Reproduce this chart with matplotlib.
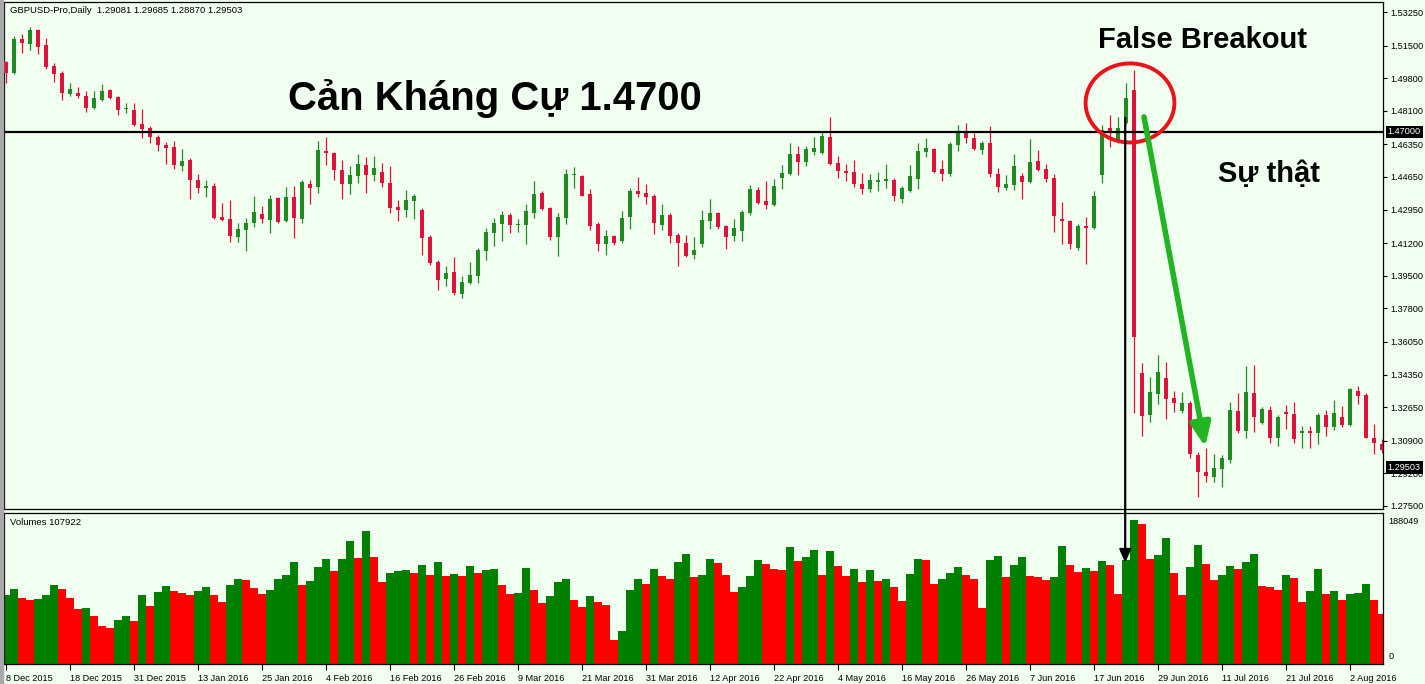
import numpy as np
import pandas as pd
import matplotlib
matplotlib.use("Agg")
import matplotlib.pyplot as plt
from matplotlib.patches import Ellipse, Rectangle
import matplotlib.transforms as mtransforms

plt.rcParams["font.family"] = ["Liberation Sans", "DejaVu Sans"]

# GBPUSD daily, 8 Dec 2015 .. 8 Aug 2016
opens = [1.5065, 1.5007, 1.5185, 1.5159, 1.5232, 1.5153, 1.5044, 1.5007, 1.4898, 1.4903,
         1.4888, 1.4825, 1.4867, 1.4919, 1.4882, 1.4820, 1.4815, 1.4742, 1.4721, 1.4674,
         1.4632, 1.4622, 1.4523, 1.4554, 1.4450, 1.4408, 1.4418, 1.4257, 1.4246, 1.4152,
         1.4189, 1.4225, 1.4272, 1.4241, 1.4356, 1.4236, 1.4361, 1.4246, 1.4429, 1.4413,
         1.4601, 1.4590, 1.4502, 1.4429, 1.4471, 1.4528, 1.4476, 1.4491, 1.4434, 1.4309,
         1.4293, 1.4340, 1.4293, 1.4152, 1.4022, 1.3934, 1.3970, 1.3856, 1.3913, 1.3949,
         1.4079, 1.4173, 1.4220, 1.4267, 1.4215, 1.4215, 1.4278, 1.4382, 1.4304, 1.4152,
         1.4252, 1.4476, 1.4471, 1.4377, 1.4220, 1.4116, 1.4158, 1.4131, 1.4257, 1.4392,
         1.4382, 1.4366, 1.4215, 1.4267, 1.4163, 1.4121, 1.4059, 1.4116, 1.4236, 1.4278,
         1.4210, 1.4158, 1.4184, 1.4278, 1.4398, 1.4340, 1.4319, 1.4460, 1.4481, 1.4585,
         1.4543, 1.4596, 1.4590, 1.4674, 1.4538, 1.4497, 1.4491, 1.4429, 1.4403, 1.4439,
         1.4445, 1.4450, 1.4351, 1.4392, 1.4455, 1.4596, 1.4611, 1.4507, 1.4481, 1.4632,
         1.4705, 1.4669, 1.4606, 1.4643, 1.4481, 1.4408, 1.4424, 1.4471, 1.4439, 1.4549,
         1.4507, 1.4460, 1.4246, 1.4236, 1.4095, 1.4210, 1.4199, 1.4476, 1.4721, 1.4648,
         1.4747, 1.4919, 1.3444, 1.3225, 1.3334, 1.3418, 1.3313, 1.3246, 1.3287, 1.3016,
         1.2927, 1.2901, 1.2943, 1.2990, 1.3246, 1.3141, 1.3339, 1.3183, 1.3251, 1.3105,
         1.3240, 1.3230, 1.3131, 1.3141, 1.3131, 1.3225, 1.3162, 1.3214, 1.3173, 1.3350,
         1.3329, 1.3105, 1.3073]
highs = [1.5070, 1.5200, 1.5211, 1.5247, 1.5235, 1.5190, 1.5060, 1.5018, 1.4955, 1.4935,
         1.4914, 1.4914, 1.4950, 1.4924, 1.4885, 1.4851, 1.4851, 1.4820, 1.4731, 1.4684,
         1.4648, 1.4653, 1.4611, 1.4564, 1.4481, 1.4450, 1.4434, 1.4330, 1.4346, 1.4225,
         1.4252, 1.4366, 1.4314, 1.4372, 1.4361, 1.4413, 1.4418, 1.4450, 1.4450, 1.4653,
         1.4674, 1.4596, 1.4554, 1.4523, 1.4585, 1.4570, 1.4575, 1.4538, 1.4523, 1.4346,
         1.4398, 1.4377, 1.4304, 1.4163, 1.4033, 1.4001, 1.4048, 1.3949, 1.4022, 1.4095,
         1.4199, 1.4252, 1.4288, 1.4278, 1.4246, 1.4325, 1.4445, 1.4392, 1.4309, 1.4278,
         1.4507, 1.4517, 1.4476, 1.4403, 1.4231, 1.4189, 1.4163, 1.4288, 1.4408, 1.4465,
         1.4429, 1.4377, 1.4325, 1.4278, 1.4173, 1.4163, 1.4152, 1.4293, 1.4351, 1.4283,
         1.4215, 1.4246, 1.4293, 1.4424, 1.4413, 1.4445, 1.4455, 1.4528, 1.4643, 1.4627,
         1.4627, 1.4674, 1.4700, 1.4778, 1.4575, 1.4533, 1.4554, 1.4486, 1.4481, 1.4491,
         1.4533, 1.4460, 1.4418, 1.4528, 1.4643, 1.4669, 1.4617, 1.4554, 1.4648, 1.4736,
         1.4747, 1.4695, 1.4653, 1.4731, 1.4512, 1.4476, 1.4585, 1.4486, 1.4663, 1.4606,
         1.4533, 1.4481, 1.4335, 1.4241, 1.4220, 1.4257, 1.4392, 1.4736, 1.4788, 1.4778,
         1.4955, 1.5023, 1.3496, 1.3423, 1.3537, 1.3501, 1.3350, 1.3345, 1.3298, 1.3032,
         1.3052, 1.3021, 1.3016, 1.3292, 1.3339, 1.3480, 1.3485, 1.3266, 1.3272, 1.3225,
         1.3277, 1.3292, 1.3167, 1.3167, 1.3235, 1.3251, 1.3303, 1.3272, 1.3365, 1.3376,
         1.3339, 1.3178, 1.3099]
lows = [1.4955, 1.5002, 1.5112, 1.5127, 1.5106, 1.5028, 1.4961, 1.4867, 1.4888, 1.4877,
        1.4804, 1.4820, 1.4862, 1.4872, 1.4788, 1.4799, 1.4731, 1.4669, 1.4643, 1.4601,
        1.4533, 1.4507, 1.4497, 1.4351, 1.4382, 1.4361, 1.4247, 1.4236, 1.4126, 1.4126,
        1.4079, 1.4205, 1.4225, 1.4173, 1.4226, 1.4231, 1.4147, 1.4225, 1.4325, 1.4382,
        1.4528, 1.4450, 1.4351, 1.4377, 1.4434, 1.4382, 1.4445, 1.4413, 1.4278, 1.4236,
        1.4257, 1.4246, 1.4059, 1.4007, 1.3876, 1.3897, 1.3850, 1.3835, 1.3908, 1.3913,
        1.4033, 1.4105, 1.4131, 1.4173, 1.4178, 1.4116, 1.4252, 1.4293, 1.4137, 1.4053,
        1.4220, 1.4408, 1.4366, 1.4189, 1.4079, 1.4059, 1.4111, 1.4121, 1.4194, 1.4361,
        1.4325, 1.4168, 1.4189, 1.4121, 1.4001, 1.4048, 1.4038, 1.4100, 1.4194, 1.4194,
        1.4090, 1.4131, 1.4131, 1.4267, 1.4325, 1.4299, 1.4314, 1.4403, 1.4476, 1.4476,
        1.4523, 1.4580, 1.4585, 1.4528, 1.4460, 1.4445, 1.4413, 1.4377, 1.4387, 1.4392,
        1.4408, 1.4340, 1.4330, 1.4387, 1.4403, 1.4570, 1.4486, 1.4445, 1.4471, 1.4601,
        1.4643, 1.4606, 1.4585, 1.4465, 1.4387, 1.4398, 1.4398, 1.4351, 1.4434, 1.4497,
        1.4439, 1.4178, 1.4116, 1.4090, 1.4085, 1.4012, 1.4194, 1.4434, 1.4622, 1.4643,
        1.4742, 1.3235, 1.3115, 1.3188, 1.3282, 1.3204, 1.3240, 1.3235, 1.3000, 1.2797,
        1.2875, 1.2875, 1.2849, 1.2974, 1.3131, 1.3105, 1.3136, 1.3178, 1.3079, 1.3063,
        1.3152, 1.3079, 1.3052, 1.3052, 1.3073, 1.3115, 1.3146, 1.3162, 1.3167, 1.3282,
        1.3105, 1.3021, 1.3026]
closes = [1.5007, 1.5185, 1.5164, 1.5232, 1.5143, 1.5039, 1.5002, 1.4903, 1.4924, 1.4888,
          1.4825, 1.4877, 1.4914, 1.4877, 1.4815, 1.4825, 1.4736, 1.4716, 1.4674, 1.4632,
          1.4617, 1.4528, 1.4549, 1.4450, 1.4408, 1.4418, 1.4252, 1.4241, 1.4158, 1.4194,
          1.4225, 1.4283, 1.4246, 1.4351, 1.4231, 1.4361, 1.4252, 1.4439, 1.4408, 1.4606,
          1.4590, 1.4502, 1.4429, 1.4476, 1.4533, 1.4476, 1.4512, 1.4434, 1.4304, 1.4293,
          1.4346, 1.4366, 1.4147, 1.4017, 1.3928, 1.3965, 1.3861, 1.3918, 1.3954, 1.4085,
          1.4178, 1.4225, 1.4267, 1.4215, 1.4220, 1.4288, 1.4377, 1.4299, 1.4152, 1.4257,
          1.4481, 1.4481, 1.4366, 1.4210, 1.4116, 1.4158, 1.4121, 1.4252, 1.4392, 1.4377,
          1.4361, 1.4225, 1.4267, 1.4158, 1.4121, 1.4053, 1.4085, 1.4241, 1.4278, 1.4205,
          1.4152, 1.4199, 1.4283, 1.4403, 1.4330, 1.4319, 1.4418, 1.4486, 1.4585, 1.4543,
          1.4611, 1.4617, 1.4679, 1.4533, 1.4497, 1.4486, 1.4429, 1.4403, 1.4450, 1.4450,
          1.4455, 1.4366, 1.4408, 1.4471, 1.4601, 1.4617, 1.4491, 1.4481, 1.4637, 1.4705,
          1.4669, 1.4611, 1.4643, 1.4481, 1.4413, 1.4429, 1.4523, 1.4439, 1.4543, 1.4502,
          1.4455, 1.4262, 1.4236, 1.4116, 1.4210, 1.4199, 1.4366, 1.4710, 1.4700, 1.4721,
          1.4877, 1.3631, 1.3219, 1.3345, 1.3449, 1.3308, 1.3287, 1.3287, 1.3021, 1.2927,
          1.2906, 1.2948, 1.3000, 1.3251, 1.3141, 1.3345, 1.3214, 1.3256, 1.3105, 1.3214,
          1.3230, 1.3099, 1.3141, 1.3131, 1.3225, 1.3162, 1.3235, 1.3173, 1.3360, 1.3324,
          1.3105, 1.3079, 1.3042]
# tick volume, thousands
volumes = [85.9, 93.4, 82.2, 79.7, 80.9, 85.9, 98.4, 93.4, 82.2, 68.5,
           69.7, 59.8, 47.3, 44.8, 54.8, 59.8, 53.5, 85.9, 72.2, 89.6,
           97.1, 90.9, 88.4, 85.9, 90.9, 95.9, 85.9, 77.2, 98.4, 105.8,
           104.6, 94.6, 87.2, 92.1, 105.8, 110.8, 127.0, 98.4, 103.3, 120.8,
           130.7, 115.8, 130.9, 153.1, 132.0, 165.6, 133.2, 102.1, 113.3, 115.8,
           117.0, 113.3, 123.3, 110.8, 127.0, 109.6, 112.1, 109.6, 122.0, 113.3,
           117.0, 118.3, 98.4, 87.2, 88.4, 119.5, 92.1, 75.9, 84.7, 102.1,
           105.8, 79.7, 71.0, 84.7, 77.2, 73.5, 29.9, 41.1, 92.1, 105.8,
           99.6, 118.3, 109.6, 105.8, 127.0, 137.0, 108.3, 110.8, 130.7, 125.7,
           110.8, 89.6, 95.9, 109.6, 129.5, 124.5, 118.3, 117.0, 145.7, 128.2,
           133.2, 141.9, 110.8, 140.7, 122.0, 109.6, 118.3, 102.1, 117.0, 103.3,
           105.8, 95.9, 78.4, 112.1, 130.7, 129.5, 99.6, 105.8, 113.3, 120.8,
           110.8, 105.8, 69.7, 129.5, 134.5, 108.3, 123.3, 133.2, 109.6, 108.3,
           104.6, 108.3, 146.9, 123.3, 114.5, 119.5, 115.8, 128.2, 123.3, 87.2,
           129.5, 179.3, 174.3, 130.7, 135.7, 156.9, 113.3, 85.9, 120.8, 148.2,
           124.5, 104.6, 110.8, 122.0, 118.3, 127.0, 137.0, 97.1, 95.9, 92.1,
           110.8, 107.1, 77.2, 90.9, 118.3, 87.2, 90.9, 79.7, 87.2, 88.4,
           99.6, 79.7, 62.3]

price_ticks = [1.53250, 1.51500, 1.49800, 1.48100, 1.46350, 1.44650, 1.42950, 1.41200,
               1.39500, 1.37800, 1.36050, 1.34350, 1.32650, 1.30900, 1.29200, 1.27500]
resistance = 1.4700
last_price = 1.29503
vol_max = 188049

dates = pd.bdate_range("2015-12-08", "2016-08-08")
dates = dates[~dates.isin(pd.to_datetime(["2015-12-25", "2016-01-01"]))]

BG = "#F0FFF0"
W, H = 1425, 684


def box(l, t, r, b):
    return [l / W, 1 - b / H, (r - l) / W, (b - t) / H]


fig = plt.figure(figsize=(W / 100, H / 100), dpi=100, facecolor=BG)
ax = fig.add_axes(box(4, 2, 1383, 509), facecolor=BG)
axv = fig.add_axes(box(4, 513, 1383, 664), facecolor=BG)
fig.patches.append(Rectangle((0, 0), 3 / W, 1, transform=fig.transFigure,
                             color="#A8A8A8", zorder=0))

o, h, l, c = map(np.array, (opens, highs, lows, closes))
x = np.arange(len(c))
up = c >= o
ccol = np.where(up, "#228B22", "#DC143C")
ax.vlines(x, l, h, colors=ccol, lw=0.9, zorder=2)
ax.bar(x, np.maximum(np.abs(c - o), 0.0004), bottom=np.minimum(o, c),
       width=0.62, color=ccol, lw=0, zorder=3)
ax.axhline(resistance, color="black", lw=1.6, zorder=4)

ax.set_xlim(-0.25, 172.125)
ax.set_ylim(1.27342, 1.53772)
ax.set_yticks(price_ticks)
ax.set_yticklabels([f"{t:.5f}" for t in price_ticks])
ax.yaxis.tick_right()
ax.tick_params(axis="y", labelsize=6.6, length=3, width=0.8, pad=2)
ax.tick_params(axis="x", bottom=False, labelbottom=False)

ytr = mtransforms.blended_transform_factory(ax.transAxes, ax.transData)
for val in (resistance, last_price):
    ax.text(1.0035, val, f"{val:.5f}", transform=ytr, ha="left", va="center",
            fontsize=6.6, color="white", zorder=10, clip_on=False,
            bbox=dict(boxstyle="square,pad=0.2", fc="black", ec="none"))

# volumes
v = np.array(volumes) * 1000
vcol = np.where(np.r_[True, np.diff(v) > 0], "#008000", "#FF0000")
axv.bar(x, v, width=0.88, color=vcol, lw=0)
axv.set_xlim(-0.25, 172.125)
axv.set_ylim(0, vol_max)
axv.set_yticks([])
tick_idx = list(range(0, len(x), 8))
axv.set_xticks(tick_idx)
axv.set_xticklabels([f"{dates[i].day} {dates[i].strftime('%b %Y')}" for i in tick_idx],
                    ha="left", fontsize=6.6)
axv.tick_params(axis="x", length=4, width=0.8, pad=3)
axv.text(1.004, 0.975, f"{vol_max}", transform=axv.transAxes, ha="left", va="top",
         fontsize=6.6)
axv.text(1.004, 0.02, "0", transform=axv.transAxes, ha="left", va="bottom",
         fontsize=6.6)
axv.text(0.004, 0.97, "Volumes 107922", transform=axv.transAxes, ha="left",
         va="top", fontsize=6.8)
ax.text(0.004, 0.993, "GBPUSD-Pro,Daily  1.29081 1.29685 1.28870 1.29503",
        transform=ax.transAxes, ha="left", va="top", fontsize=6.8)

for a in (ax, axv):
    for s in a.spines.values():
        s.set_linewidth(0.9)

# annotations
fig.text(495 / W, 1 - 110 / H, "Cản Kháng Cự 1.4700", ha="center", va="baseline",
         fontsize=28.8, fontweight="bold")
fig.text(1202 / W, 1 - 48 / H, "False Breakout", ha="center", va="baseline",
         fontsize=21, fontweight="bold")
fig.text(1269 / W, 1 - 182 / H, "Sự thật", ha="center", va="baseline",
         fontsize=21, fontweight="bold")

ax.add_patch(Ellipse((140.5, 1.4851), 11.1, 0.0412, fill=False, ec="#E8141C",
                     lw=2.8, zorder=6))
ax.annotate("", xy=(149.9, 1.3058), xytext=(142.25, 1.4778),
            arrowprops=dict(arrowstyle="-|>,head_length=1.4,head_width=0.6",
                            color="#22B422", lw=4, mutation_scale=10,
                            shrinkA=0, shrinkB=0), zorder=7)
axv.annotate("", xy=(139.9, 126000), xycoords=axv.transData,
             xytext=(139.9, 1.4773), textcoords=ax.transData,
             arrowprops=dict(arrowstyle="-|>,head_length=0.8,head_width=0.35",
                             color="black", lw=1.6, mutation_scale=10,
                             shrinkA=0, shrinkB=0),
             annotation_clip=False, zorder=8)

fig.savefig("out.png", dpi=100, facecolor=BG)
